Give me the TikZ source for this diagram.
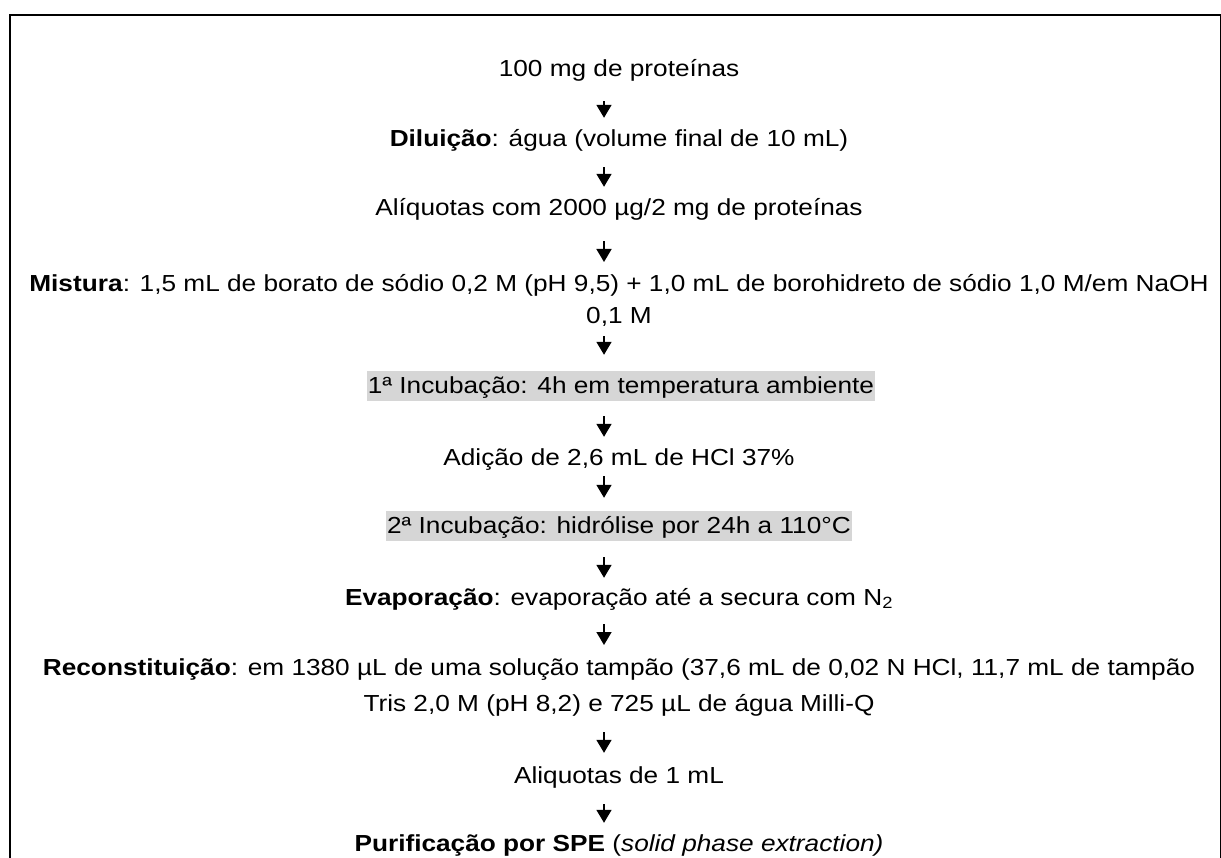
\documentclass[tikz,border=0pt]{standalone}
\usepackage{fontspec}
\setmainfont[FakeStretch=1.13]{Liberation Sans}
\usetikzlibrary{arrows.meta}
\definecolor{hlgray}{RGB}{214,214,214}
\newcommand\tstrut{\rule{0pt}{20pt}}
\newcommand\bstrut{\rule[-5.5pt]{0pt}{5.5pt}}
\tikzset{
  stepnode/.style={inner sep=0pt, align=center, anchor=center, font=\fontsize{23.2}{32}\selectfont},
  hlnode/.style={stepnode, fill=hlgray, inner xsep=1pt, inner ysep=2pt},
  arr/.style={line width=1.7pt, -{Triangle[length=13pt,width=15pt]}},
  frame/.style={line width=2pt}
}
\begin{document}
\begin{tikzpicture}[x=1pt,y=-1pt]
\useasboundingbox (0,0) rectangle (1221,858);
\begin{scope}
\clip (0,0) rectangle (1221,858);
\draw[frame] (9.5,15) rectangle (1220.5,880);
\end{scope}
\coordinate (ax) at (604,0);
\node[stepnode] (n1) at (619,69) {\tstrut 100 mg de proteínas\bstrut};
\node[stepnode] (n2) at (619,139) {\tstrut\textbf{Diluição}: água (volume final de 10 mL)\bstrut};
\node[stepnode] (n3) at (619,208) {\tstrut Alíquotas com 2000 µg/2 mg de proteínas\bstrut};
\node[stepnode, anchor=north] (n4) at (619,271.25) {\tstrut\textbf{Mistura}: 1,5 mL de borato de sódio 0,2 M (pH 9,5) + 1,0 mL de borohidreto de sódio 1,0 M/em NaOH\\0,1 M\bstrut};
\node[hlnode] (n5) at (621,386) {\tstrut 1ª Incubação: 4h em temperatura ambiente\bstrut};
\node[stepnode] (n6) at (619,458) {\tstrut Adição de 2,6 mL de HCl 37\%\bstrut};
\node[hlnode] (n7) at (619,526) {\tstrut 2ª Incubação: hidrólise por 24h a 110°C\bstrut};
\node[stepnode] (n8) at (619,598) {\tstrut\textbf{Evaporação}: evaporação até a secura com N\textsubscript{2}\bstrut};
\node[stepnode, anchor=north, font=\fontsize{23.2}{36}\selectfont] (n9) at (619,655.25) {\tstrut\textbf{Reconstituição}: em 1380 µL de uma solução tampão (37,6 mL de 0,02 N HCl, 11,7 mL de tampão\\Tris 2,0 M (pH 8,2) e 725 µL de água Milli-Q\bstrut};
\node[stepnode] (n10) at (619,776) {\tstrut Aliquotas de 1 mL\bstrut};
\node[stepnode] (n11) at (619,844) {\tstrut\textbf{Purificação por SPE} (\textit{solid phase extraction)}\bstrut};
\draw[arr, shorten <=19.25pt, shorten >=8.25pt] (n1.south -| ax) -- (n2.north -| ax);
\draw[arr, shorten <=15.25pt, shorten >=8.25pt] (n2.south -| ax) -- (n3.north -| ax);
\draw[arr, shorten <=20.25pt, shorten >=9.25pt] (n3.south -| ax) -- (n4.north -| ax);
\draw[arr, shorten <=7.25pt, shorten >=16.25pt] (n4.south -| ax) -- (n5.north -| ax);
\draw[arr, shorten <=15.25pt, shorten >=8.25pt] (n5.south -| ax) -- (n6.north -| ax);
\draw[arr, shorten <=5.25pt, shorten >=13.25pt] (n6.south -| ax) -- (n7.north -| ax);
\draw[arr, shorten <=16.25pt, shorten >=7.25pt] (n7.south -| ax) -- (n8.north -| ax);
\draw[arr, shorten <=13.25pt, shorten >=10.25pt] (n8.south -| ax) -- (n9.north -| ax);
\draw[arr, shorten <=15.25pt, shorten >=10.25pt] (n9.south -| ax) -- (n10.north -| ax);
\draw[arr, shorten <=15.25pt, shorten >=8.25pt] (n10.south -| ax) -- (n11.north -| ax);
\end{tikzpicture}
\end{document}
